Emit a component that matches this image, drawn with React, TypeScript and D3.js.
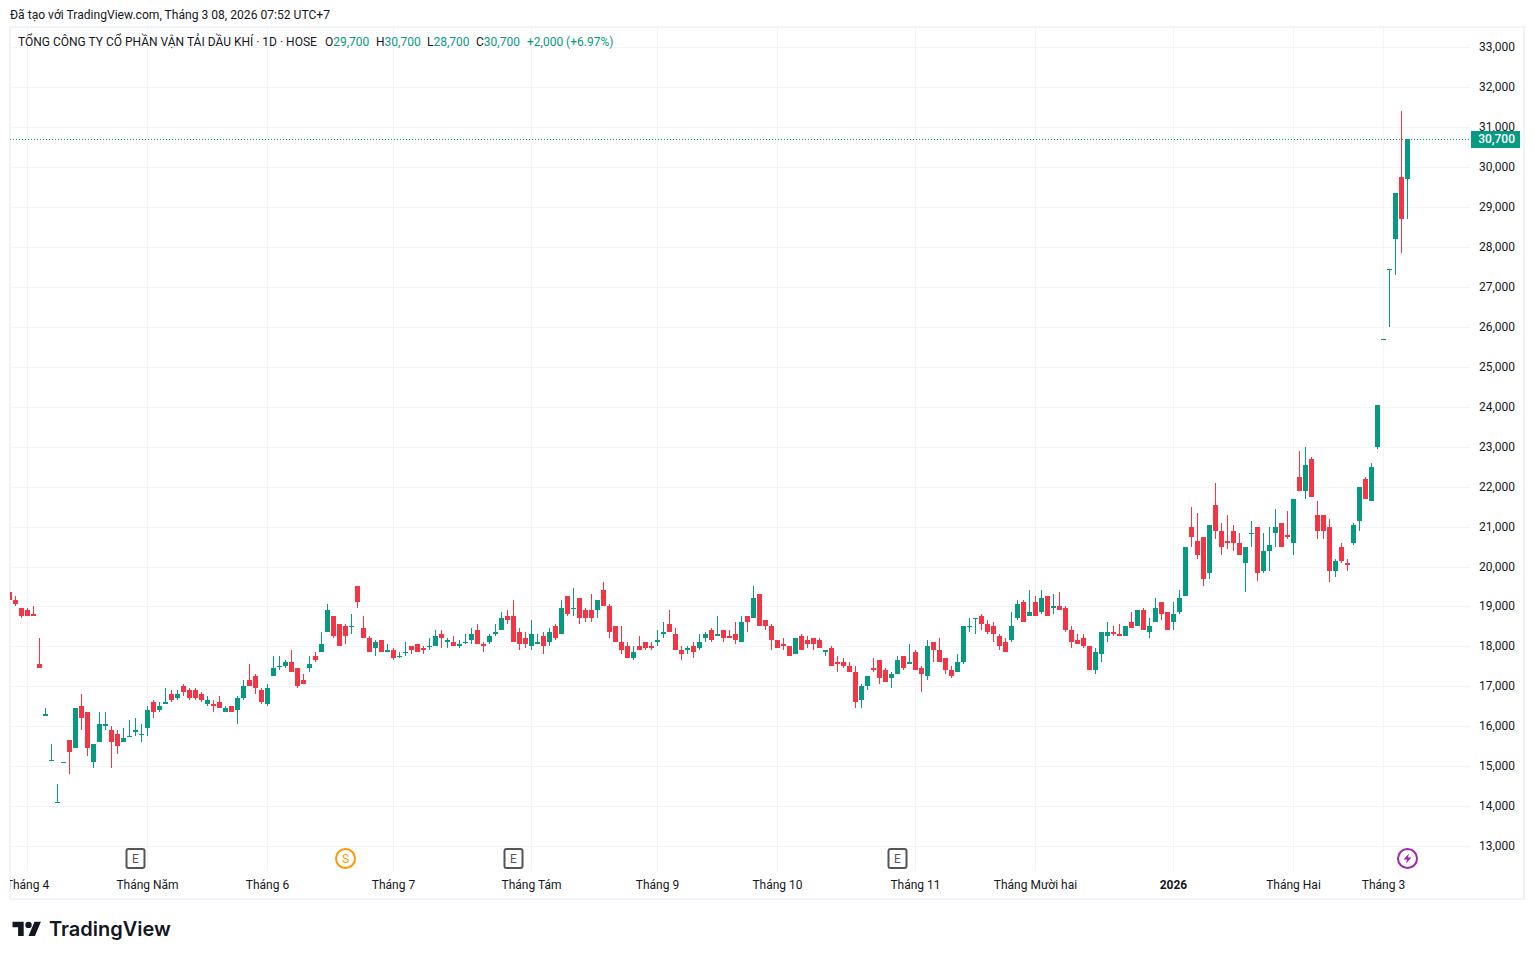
import * as d3 from 'd3';

const opens = [
  19350, 19150, 18950, 18900, 18800, 17550, 16250, 15150, 14100, 15100,
  15650, 15450, 16500, 16350, 15100, 15600, 16000, 15900, 15800, 15600,
  15750, 15850, 15800, 15950, 16600, 16400, 16550, 16800, 16700, 17000,
  16900, 16900, 16800, 16550, 16550, 16600, 16350, 16500, 16400, 16700,
  17150, 17250, 16900, 16550, 17250, 17500, 17500, 17600, 17450, 17150,
  17450, 17750, 17850, 18350, 18750, 18550, 18500, 18500, 19500, 18450,
  18200, 17950, 18150, 17850, 17900, 17750, 17850, 18000, 18050, 17950,
  18000, 18000, 18300, 18100, 18100, 18000, 18100, 18150, 18400, 18050,
  18100, 18300, 18400, 18750, 18750, 18350, 18200, 18000, 18050, 18250,
  18100, 18500, 18300, 19250, 18950, 19200, 18900, 18900, 18900, 19400,
  19000, 18500, 18100, 18000, 17700, 18000, 18100, 18000, 18100, 18300,
  18550, 18300, 17900, 17900, 18000, 17950, 18200, 18400, 18250, 18400,
  18250, 18300, 18100, 18750, 18700, 19300, 18650, 18500, 18150, 18050,
  18000, 17800, 18250, 18150, 18200, 18150, 17850, 17950, 17600, 17600,
  17500, 17350, 16650, 17000, 17450, 17650, 17400, 17200, 17300, 17750,
  17550, 17850, 17450, 17250, 18100, 17900, 17700, 17400, 17350, 17600,
  18500, 18700, 18750, 18550, 18500, 18250, 18100, 18150, 18700, 19100,
  18750, 19100, 18850, 19250, 18950, 19000, 18950, 18400, 18150, 18200,
  18000, 17400, 17800, 18250, 18350, 18300, 18250, 18600, 18500, 18900,
  18350, 18600, 19100, 18850, 18600, 18850, 19250, 21000, 20650, 20750,
  19850, 21550, 20900, 20650, 20900, 20600, 20100, 20850, 21000, 19900,
  20400, 20850, 21100, 20800, 20600, 22250, 21900, 22700, 21300, 21300,
  21000, 19900, 20500, 20100, 20600, 21150, 22200, 21650, 23000, 25700,
  27450, 28200, 29750, 29700,
];

const highs = [
  19400, 19250, 18950, 18950, 19000, 18200, 16450, 15550, 14550, 15100,
  15650, 16450, 16800, 16350, 15550, 16350, 16350, 16000, 15900, 15950,
  16150, 16200, 16050, 16500, 16650, 16600, 16950, 16900, 16900, 17050,
  16950, 16950, 16850, 16750, 16650, 16750, 16500, 16500, 16750, 17150,
  17550, 17300, 16950, 17050, 17750, 17750, 17650, 17900, 17450, 17300,
  17750, 17850, 18350, 19050, 18750, 18550, 18550, 18800, 19500, 18750,
  18250, 18150, 18150, 18050, 17950, 17850, 18100, 18000, 18050, 18000,
  18200, 18400, 18400, 18200, 18250, 18150, 18300, 18450, 18550, 18100,
  18300, 18550, 18850, 18900, 19150, 18450, 18350, 18650, 18300, 18350,
  18450, 18550, 19150, 19250, 19450, 19200, 18950, 19300, 19150, 19600,
  19050, 18500, 18500, 18100, 18000, 18250, 18100, 18100, 18400, 18600,
  18900, 18450, 18000, 18000, 18100, 18300, 18350, 18450, 18750, 18400,
  18400, 18600, 18750, 18750, 19500, 19300, 18650, 18550, 18150, 18200,
  18000, 18200, 18300, 18250, 18200, 18200, 17900, 18000, 17750, 17700,
  17600, 17500, 17050, 17250, 17700, 17650, 17450, 17350, 17750, 17750,
  18050, 17900, 17500, 18150, 18100, 18200, 17700, 17500, 17800, 18500,
  18700, 18700, 18800, 18650, 18600, 18300, 18200, 18850, 19150, 19150,
  19400, 19250, 19400, 19250, 19300, 19350, 19000, 18500, 18300, 18300,
  18000, 17950, 18350, 18600, 18500, 18550, 18500, 18850, 18900, 18950,
  18700, 19200, 19100, 18850, 19100, 19400, 20500, 21500, 21350, 20750,
  21050, 22100, 21100, 21300, 21050, 20850, 20500, 21150, 21000, 20850,
  21000, 21450, 21100, 21400, 21700, 22900, 23000, 22750, 21650, 21300,
  21200, 20200, 20600, 20200, 21100, 22000, 22250, 22600, 24050, 25700,
  27450, 29350, 31400, 30700,
];

const lows = [
  19150, 19000, 18700, 18750, 18750, 17450, 16250, 15150, 14100, 15100,
  14800, 15450, 15900, 15250, 14950, 15600, 15900, 14950, 15300, 15600,
  15750, 15750, 15600, 15750, 16200, 16350, 16550, 16600, 16650, 16750,
  16650, 16650, 16600, 16500, 16350, 16450, 16350, 16350, 16050, 16650,
  17000, 16800, 16550, 16500, 17250, 17400, 17450, 17350, 16950, 17050,
  17350, 17600, 17850, 18350, 18200, 18000, 18050, 18300, 18950, 18200,
  17850, 17750, 17850, 17850, 17650, 17700, 17750, 17800, 17850, 17800,
  17900, 18000, 17950, 17950, 18000, 17950, 18050, 18050, 18050, 17850,
  18050, 18250, 18400, 18550, 18100, 17900, 17950, 17900, 18050, 17800,
  18000, 18150, 18300, 18750, 18750, 18550, 18600, 18600, 18700, 19000,
  18200, 18100, 17800, 17700, 17650, 17900, 17900, 17900, 18000, 18200,
  18350, 17900, 17650, 17800, 17700, 17900, 18100, 18100, 18250, 18100,
  18200, 18050, 18100, 18350, 18700, 18500, 18400, 17900, 17950, 17900,
  17750, 17800, 17900, 17950, 17900, 17950, 17750, 17500, 17350, 17450,
  17350, 16450, 16450, 16900, 17350, 17050, 17100, 16950, 17300, 17400,
  17550, 17400, 16850, 17150, 17600, 17600, 17300, 17200, 17350, 17550,
  18350, 18300, 18400, 18300, 18100, 17900, 17850, 18100, 18650, 18600,
  18750, 18750, 18800, 18750, 18800, 18900, 18350, 17950, 18050, 17950,
  17400, 17300, 17600, 18100, 18250, 18250, 18250, 18450, 18500, 18400,
  18200, 18600, 18650, 18400, 18400, 18800, 19250, 20500, 20200, 19500,
  19700, 20700, 20300, 20450, 20400, 20300, 19350, 20500, 19650, 19850,
  19900, 20500, 20500, 20700, 20300, 21900, 21700, 21750, 20700, 20700,
  19600, 19750, 20100, 19900, 20550, 20900, 21700, 21650, 22950, 25700,
  26000, 27300, 27850, 28700,
];

const closes = [
  19150, 19050, 18750, 18750, 18750, 17450, 16300, 15150, 14100, 15100,
  15350, 16450, 16200, 15450, 15550, 16050, 16050, 15600, 15500, 15700,
  15750, 15900, 15800, 16400, 16350, 16500, 16600, 16650, 16800, 16850,
  16700, 16700, 16650, 16650, 16500, 16450, 16450, 16350, 16700, 17000,
  17000, 16950, 16600, 16950, 17450, 17500, 17600, 17350, 17000, 17050,
  17550, 17650, 18050, 18900, 18250, 18000, 18250, 18500, 19100, 18200,
  17850, 18100, 17850, 17900, 17700, 17750, 17850, 17900, 17850, 17900,
  18000, 18250, 18200, 18150, 18000, 18050, 18100, 18300, 18050, 18000,
  18250, 18350, 18700, 18650, 18100, 18050, 18050, 18300, 18100, 18000,
  18350, 18200, 18950, 18800, 18950, 18700, 18700, 18700, 19150, 19000,
  18350, 18100, 17900, 17700, 17850, 17900, 17950, 17950, 18150, 18350,
  18350, 17900, 17800, 17950, 17850, 18100, 18300, 18150, 18300, 18200,
  18200, 18150, 18600, 18600, 19200, 18500, 18500, 18150, 17950, 18000,
  17750, 18200, 17900, 18050, 18050, 17950, 17900, 17500, 17550, 17500,
  17350, 16600, 17000, 17250, 17400, 17200, 17100, 17300, 17650, 17450,
  17600, 17400, 17300, 18000, 17900, 17600, 17400, 17250, 17600, 18500,
  18500, 18700, 18550, 18350, 18300, 18000, 17850, 18500, 19050, 18600,
  18850, 18750, 19200, 18750, 19000, 18900, 18400, 18100, 18050, 18000,
  17400, 17850, 18350, 18350, 18300, 18250, 18500, 18450, 18900, 18400,
  18500, 18950, 18800, 18400, 18800, 19200, 20500, 20750, 20300, 19700,
  21050, 20900, 20500, 20600, 20600, 20300, 20500, 20850, 19850, 20400,
  20550, 21000, 20500, 20750, 21700, 21900, 22550, 21750, 20900, 20900,
  19900, 20150, 20150, 20050, 21050, 22000, 21700, 22500, 24050, 25700,
  27450, 29350, 28700, 30700,
];

const monthLabels = ['Tháng 4', 'Tháng Năm', 'Tháng 6', 'Tháng 7', 'Tháng Tám', 'Tháng 9', 'Tháng 10', 'Tháng 11', 'Tháng Mười hai', '2026', 'Tháng Hai', 'Tháng 3'];
const monthBars = [3, 23, 43, 64, 87, 108, 128, 151, 171, 194, 214, 229];

const earningsBars = [21, 84, 148];
const splitBars = [56];
const newsBars = [233];

const lastPrice = 30700;
const legendTitle = 'TỔNG CÔNG TY CỔ PHẦN VẬN TẢI DẦU KHÍ · 1D · HOSE';
const credit = 'Đã tạo với TradingView.com, Tháng 3 08, 2026 07:52 UTC+7';
const legendOhlc = [
  { k: 'O', v: '29,700', x: 325 },
  { k: 'H', v: '30,700', x: 376 },
  { k: 'L', v: '28,700', x: 427 },
  { k: 'C', v: '30,700', x: 476 },
];

const UP = '#089981';
const DOWN = '#F23645';
const GRID = '#f3f4f6';
const INK = '#131722';
const FONT = 'Roboto, sans-serif';

const x = d3.scaleLinear().domain([0, 233]).range([9.5, 1407.5]);
const y = d3.scaleLinear().domain([13000, 33000]).range([846.17, 47.17]);
const fmt = d3.format(',');
const row = (p: number) => Math.round(y(p));

function Candle({ i }: { i: number }) {
  const o = opens[i];
  const c = closes[i];
  const color = c >= o ? UP : DOWN;
  const cx = x(i);
  const top = row(Math.max(o, c));
  const bottom = row(Math.min(o, c));
  const hi = row(highs[i]);
  const lo = row(lows[i]);
  return (
    <g fill={color}>
      <rect x={cx - 0.5} y={hi} width={1} height={Math.max(1, lo - hi)} />
      <rect x={cx - 2.5} y={top} width={5} height={Math.max(1, bottom - top)} />
    </g>
  );
}

function EventBadge({ cx, letter }: { cx: number; letter: string }) {
  return (
    <g>
      <rect x={cx - 9} y={849} width={18} height={19} rx={2} fill="#fff" stroke="#555" strokeWidth={2} />
      <text x={cx} y={863} textAnchor="middle" fontSize={12} fill="#555" fontFamily={FONT}>{letter}</text>
    </g>
  );
}

export default function App() {
  const ticks = y.ticks(20);
  return (
    <svg
      width={1534}
      height={959}
      viewBox="0 0 1534 959"
      style={{ position: 'absolute', left: 0, top: 0, background: '#fff' }}
      fontFamily={FONT}
    >
      <defs>
        <clipPath id="pane">
          <rect x={10} y={27} width={1460} height={845} />
        </clipPath>
        <clipPath id="axis">
          <rect x={10} y={872} width={1460} height={26} />
        </clipPath>
      </defs>

      <text x={10} y={19} fontSize={12.1} fill={INK}>{credit}</text>

      <rect x={10} y={27} width={1514} height={872} fill="none" stroke="#f0f3fa" strokeWidth={2} />

      {ticks.map((t) => (
        <line key={t} x1={10} x2={1470} y1={row(t) + 0.5} y2={row(t) + 0.5} stroke={GRID} />
      ))}
      {monthBars.map((b) => (
        <line key={b} x1={x(b)} x2={x(b)} y1={28} y2={871} stroke={GRID} />
      ))}

      <text x={18} y={46} fontSize={12} fill={INK}>{legendTitle}</text>
      {legendOhlc.map((d) => (
        <text key={d.k} x={d.x} y={46} fontSize={12} fill={INK}>
          {d.k}
          <tspan fill={UP}>{d.v}</tspan>
        </text>
      ))}
      <text x={527} y={46} fontSize={12} fill={UP}>+2,000 (+6.97%)</text>

      <line x1={10} x2={1470} y1={row(lastPrice) + 0.5} y2={row(lastPrice) + 0.5} stroke={UP} strokeDasharray="1 2" />

      <g clipPath="url(#pane)">
        {opens.map((_, i) => (
          <Candle key={i} i={i} />
        ))}
      </g>

      {earningsBars.map((b) => (
        <EventBadge key={b} cx={x(b)} letter="E" />
      ))}
      {splitBars.map((b) => (
        <g key={b}>
          <circle cx={x(b)} cy={858.5} r={9.5} fill="#fff" stroke="#ff9800" strokeWidth={2} />
          <text x={x(b)} y={863} textAnchor="middle" fontSize={12} fill="#ff9800">S</text>
        </g>
      ))}
      {newsBars.map((b) => (
        <g key={b}>
          <circle cx={x(b)} cy={858.5} r={9.5} fill="#fff" stroke="#9c27b0" strokeWidth={2} />
          <path
            transform={`translate(${x(b)},858.5)`}
            d="M1.5 -5 L-4 1 L-0.5 1 L-1.5 5 L4 -1 L0.5 -1 Z"
            fill="#9c27b0"
          />
        </g>
      ))}

      <g clipPath="url(#axis)">
        {monthLabels.map((m, i) => (
          <text
            key={m}
            x={x(monthBars[i])}
            y={889}
            textAnchor="middle"
            fontSize={12}
            fontWeight={m === '2026' ? 700 : 400}
            fill={INK}
          >
            {m}
          </text>
        ))}
      </g>

      {ticks.map((t) => (
        <text key={t} x={1515} y={row(t) + 3.5} textAnchor="end" fontSize={12} fill={INK}>{fmt(t)}</text>
      ))}
      <rect x={1471} y={131} width={49} height={17} fill={UP} />
      <text x={1515} y={143} textAnchor="end" fontSize={12} fontWeight={500} fill="#fff">{fmt(lastPrice)}</text>

      <g transform="translate(12.5,918.5) scale(0.8)" fill="#131722">
        <path d="M14 22H7V11H0V4h14v18zM28 22h-8l7.5-18h8L28 22z" />
        <circle cx={20} cy={8} r={4} />
      </g>
      <text x={49} y={936} fontSize={20} fontWeight={600} fontFamily="Inter, sans-serif" fill="#131722">TradingView</text>
    </svg>
  );
}
